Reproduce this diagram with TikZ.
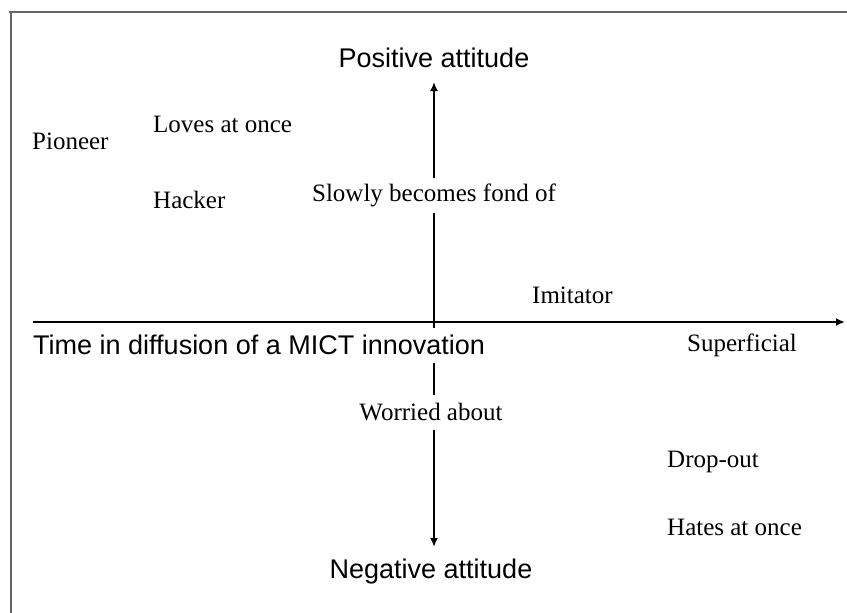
\documentclass[tikz,border=0pt]{standalone}
\usepackage{fontspec}
\setmainfont{Liberation Serif}
\newfontfamily\labsans{Liberation Sans}
\usetikzlibrary{arrows.meta}
\definecolor{framegray}{HTML}{666666}
\tikzset{
  serlab/.style={inner sep=0pt, font=\fontsize{25}{28}\selectfont},
  sanlab/.style={inner sep=0pt, font=\labsans\fontsize{27}{30}\selectfont},
  gaplab/.style={fill=white, minimum height=35pt},
  axis/.style={line width=2pt, black},
  tip/.style={-{Latex[length=9pt,width=8pt]}},
  framel/.style={line width=2.2pt, framegray}
}
\begin{document}
\begin{tikzpicture}[x=1pt,y=-1pt]
\useasboundingbox (0,0) rectangle (847,613);
% frame
\coordinate (fa) at (9,12);
\coordinate (fb) at (847,12);
\coordinate (fc) at (11,11);
\coordinate (fd) at (11,613);
\draw[framel] (fa) -- (fb);
\draw[framel] (fc) -- (fd);
% axes
\coordinate (xs) at (33,322);
\coordinate (xe) at (845,322);
\coordinate (yb) at (434,547);
\coordinate (yt) at (434,82);
\draw[axis,tip] (xs) -- (xe);
\draw[axis,{Latex[length=9pt,width=8pt]}-{Latex[length=9pt,width=8pt]}] (yb) -- (yt);
% labels
\node[sanlab] (pos) at (434,58) {Positive attitude};
\node[sanlab] (neg) at (431,572) {Negative attitude};
\node[serlab,anchor=west] (pioneer) at (32,141) {Pioneer};
\node[serlab,anchor=west] (loves) at (153,124) {Loves at once};
\node[serlab,anchor=west] (hacker) at (153,200) {Hacker};
\node[serlab,gaplab] (slowly) at (434,195) {Slowly becomes fond of};
\node[serlab,anchor=west] (imit) at (532,295) {Imitator};
\node[sanlab,gaplab,anchor=west] (time) at (33,345) {Time in diffusion of a MICT innovation};
\node[serlab,anchor=west] (sup) at (687,345) {Superficial};
\node[serlab,gaplab] (worried) at (431,412) {Worried about};
\node[serlab,anchor=west] (drop) at (667,462) {Drop-out};
\node[serlab,anchor=west] (hates) at (667,527) {Hates at once};
\end{tikzpicture}
\end{document}
